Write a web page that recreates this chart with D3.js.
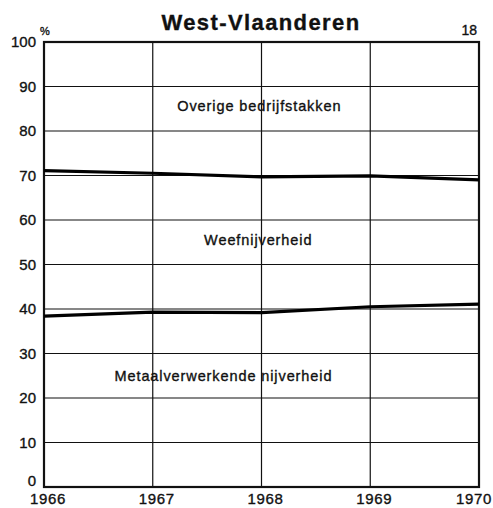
<!DOCTYPE html>
<html>
<head>
<meta charset="utf-8">
<script src="https://cdn.jsdelivr.net/npm/d3@7"></script>
<style>
  html, body { margin: 0; padding: 0; background: #fff; }
  svg { display: block; font-family: "Liberation Sans", Arial, sans-serif; }
  text { stroke: #111; stroke-width: 0.35px; }
</style>
</head>
<body>
<svg id="chart" width="493" height="508"></svg>
<script>
// Share of employment by sector, West-Vlaanderen (cumulative %)
const years = [1966, 1967, 1968, 1969, 1970];
// upper edge of "Metaalverwerkende nijverheid"
const metaalTop = [38.4, 39.3, 39.2, 40.5, 41.1];
// upper edge of "Weefnijverheid"
const weefTop = [71.1, 70.5, 69.7, 69.9, 69.0];
const yTicks = [0, 10, 20, 30, 40, 50, 60, 70, 80, 90, 100];
const sectorNames = ["Overige bedrijfstakken", "Weefnijverheid", "Metaalverwerkende nijverheid"];
const sectorLabelYear = [1967.98, 1967.97, 1967.65];
const sectorLabelValue = [84.5, 54.4, 23.8];

const svg = d3.select("#chart");
const x = d3.scaleLinear().domain([1966, 1970]).range([44, 479]);
const y = d3.scaleLinear().domain([0, 100]).range([487, 42]);

// grid
const grid = svg.append("g").attr("stroke", "#111").attr("stroke-width", 1.2);
grid.selectAll("line.h").data(yTicks.slice(1, -1)).join("line")
  .attr("x1", x(1966)).attr("x2", x(1970))
  .attr("y1", d => y(d)).attr("y2", d => y(d));
grid.selectAll("line.v").data(years.slice(1, -1)).join("line")
  .attr("x1", d => x(d)).attr("x2", d => x(d))
  .attr("y1", y(0)).attr("y2", y(100));

// frame
svg.append("rect")
  .attr("x", x(1966)).attr("y", y(100))
  .attr("width", x(1970) - x(1966)).attr("height", y(0) - y(100))
  .attr("fill", "none").attr("stroke", "#111").attr("stroke-width", 2.2);

// boundary lines
const line = d3.line().x((d, i) => x(years[i])).y(d => y(d));
[metaalTop, weefTop].forEach(s => {
  svg.append("path").datum(s).attr("d", line)
    .attr("fill", "none").attr("stroke", "#000").attr("stroke-width", 3.2);
});

// y axis labels
svg.append("g").selectAll("text").data(yTicks).join("text")
  .attr("x", 36).attr("y", d => y(d) + (d === 0 ? -1 : 5))
  .attr("text-anchor", "end")
  .attr("font-size", 15).attr("fill", "#111")
  .text(d => d);

// x axis labels
svg.append("g").selectAll("text").data(years).join("text")
  .attr("x", (d, i) => x(d) + (i === years.length - 1 ? -5 : 4))
  .attr("y", 504)
  .attr("text-anchor", "middle")
  .attr("font-size", 15).attr("fill", "#111")
  .attr("letter-spacing", 0.6)
  .text(d => d);

// sector labels
svg.append("g").selectAll("text").data(sectorNames).join("text")
  .attr("x", (d, i) => x(sectorLabelYear[i]))
  .attr("y", (d, i) => y(sectorLabelValue[i]))
  .attr("text-anchor", "middle")
  .attr("font-size", 14.5).attr("fill", "#111")
  .attr("letter-spacing", 0.9)
  .text(d => d);

// title and corner marks
svg.append("text").attr("x", 261).attr("y", 30)
  .attr("text-anchor", "middle").attr("font-size", 22).attr("font-weight", "bold")
  .attr("letter-spacing", 1.4).attr("fill", "#111")
  .text("West-Vlaanderen");
svg.append("text").attr("x", 45).attr("y", 35)
  .attr("text-anchor", "middle").attr("font-size", 11).attr("fill", "#111")
  .text("%");
svg.append("text").attr("x", 477).attr("y", 35)
  .attr("text-anchor", "end").attr("font-size", 14).attr("fill", "#111")
  .text("18");
</script>
</body>
</html>
